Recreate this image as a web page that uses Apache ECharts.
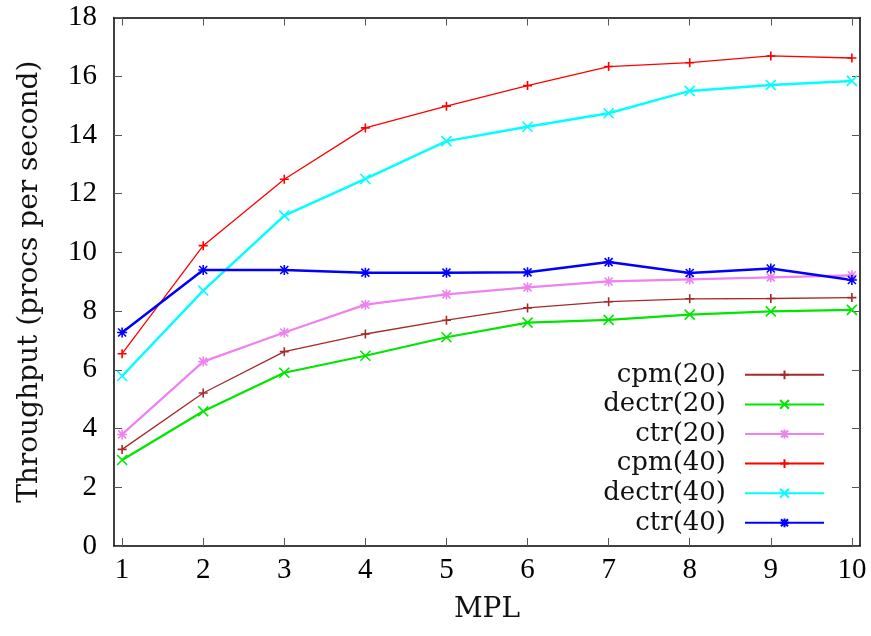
<!DOCTYPE html>
<html>
<head>
<meta charset="utf-8">
<script src="https://cdn.jsdelivr.net/npm/echarts@6/dist/echarts.min.js"></script>
<style>
html,body{margin:0;padding:0;background:#fff;}
#chart{width:871px;height:636px;}
</style>
</head>
<body>
<div id="chart"></div>
<script>
const mpl = [1, 2, 3, 4, 5, 6, 7, 8, 9, 10];
const yTicks = [0, 2, 4, 6, 8, 10, 12, 14, 16, 18];
const seriesNames = ['cpm(20)', 'dectr(20)', 'ctr(20)', 'cpm(40)', 'dectr(40)', 'ctr(40)'];
const cpm20   = [3.29, 5.21, 6.62, 7.22, 7.69, 8.11, 8.32, 8.42, 8.43, 8.46];
const dectr20 = [2.93, 4.59, 5.90, 6.48, 7.11, 7.61, 7.70, 7.88, 7.99, 8.04];
const ctr20   = [3.80, 6.28, 7.27, 8.22, 8.57, 8.81, 9.01, 9.08, 9.15, 9.22];
const cpm40   = [6.55, 10.23, 12.49, 14.24, 14.98, 15.68, 16.33, 16.46, 16.69, 16.62];
const dectr40 = [5.79, 8.70, 11.25, 12.50, 13.79, 14.28, 14.74, 15.50, 15.70, 15.84];
const ctr40   = [7.27, 9.40, 9.40, 9.31, 9.31, 9.32, 9.67, 9.30, 9.45, 9.06];

const PLUS = 'path://M0,5L10,5M5,0L5,10';
const CROSS = 'path://M0,0L10,10M10,0L0,10';
const STAR = 'path://M0,5L10,5M5,0L5,10M1,1L9,9M9,1L1,9';

const FONT = '"Liberation Serif", "DejaVu Serif", serif';
const WFONT = '"DejaVu Serif", "Liberation Serif", serif';

function pairs(vals) { return mpl.map((x, i) => [x, vals[i]]); }

function mk(name, vals, color, lw, sym, size) {
  return {
    name: name,
    type: 'line',
    data: pairs(vals),
    symbol: sym,
    symbolSize: size,
    showAllSymbol: true,
    lineStyle: { color: color, width: lw },
    itemStyle: { color: color, borderColor: color, borderWidth: 1.6 },
    emphasis: { disabled: true },
    animation: false,
    z: 3
  };
}

const chart = echarts.init(document.getElementById('chart'), null, { renderer: 'canvas' });

const tickStyle = { show: true, inside: true, length: 8, lineStyle: { color: '#555', width: 1 } };
const lineStyleAx = { show: true, onZero: false, lineStyle: { color: '#000', width: 1.5 } };

chart.setOption({
  backgroundColor: '#fff',
  animation: false,
  textStyle: { fontFamily: FONT },
  grid: { left: 114, right: 11, top: 17.5, bottom: 90, containLabel: false },
  legend: {
    orient: 'vertical',
    align: 'right',
    right: 46,
    top: 360,
    padding: 0,
    itemGap: 0,
    itemWidth: 79,
    itemHeight: 11,
    selectedMode: false,
    data: seriesNames,
    textStyle: { fontFamily: WFONT, fontSize: 26, color: '#111', lineHeight: 29.6, padding: [0, 14, 0, 0] }
  },
  xAxis: [{
    type: 'value',
    min: 0.9,
    max: 10.1,
    name: 'MPL',
    nameLocation: 'middle',
    nameGap: 50,
    nameTextStyle: { fontFamily: WFONT, fontSize: 28, color: '#111' },
    axisLine: lineStyleAx,
    axisTick: Object.assign({}, tickStyle, { customValues: mpl }),
    axisLabel: { customValues: mpl, fontFamily: FONT, fontSize: 29, color: '#000', margin: 10 },
    splitLine: { show: false }
  }, {
    type: 'value',
    position: 'top',
    min: 0.9,
    max: 10.1,
    axisLine: lineStyleAx,
    axisTick: Object.assign({}, tickStyle, { customValues: mpl }),
    axisLabel: { show: false },
    splitLine: { show: false }
  }],
  yAxis: [{
    type: 'value',
    min: 0,
    max: 18,
    interval: 2,
    name: 'Throughput (procs per second)',
    nameLocation: 'middle',
    nameGap: 70,
    nameRotate: 90,
    nameTextStyle: { fontFamily: WFONT, fontSize: 28, color: '#111' },
    axisLine: lineStyleAx,
    axisTick: tickStyle,
    axisLabel: { fontFamily: FONT, fontSize: 29, color: '#000', margin: 17, customValues: yTicks },
    splitLine: { show: false }
  }, {
    type: 'value',
    position: 'right',
    min: 0,
    max: 18,
    interval: 2,
    axisLine: lineStyleAx,
    axisTick: tickStyle,
    axisLabel: { show: false },
    splitLine: { show: false }
  }],
  series: [
    mk(seriesNames[0], cpm20, '#a52a2a', 1.3, PLUS, 9),
    mk(seriesNames[1], dectr20, '#00e600', 2.2, CROSS, 10),
    mk(seriesNames[2], ctr20, '#ee82ee', 2.2, STAR, 10),
    mk(seriesNames[3], cpm40, '#ff0000', 1.3, PLUS, 9),
    mk(seriesNames[4], dectr40, '#00ffff', 2.5, CROSS, 10),
    mk(seriesNames[5], ctr40, '#0000ff', 2.5, STAR, 10)
  ]
});
</script>
</body>
</html>
